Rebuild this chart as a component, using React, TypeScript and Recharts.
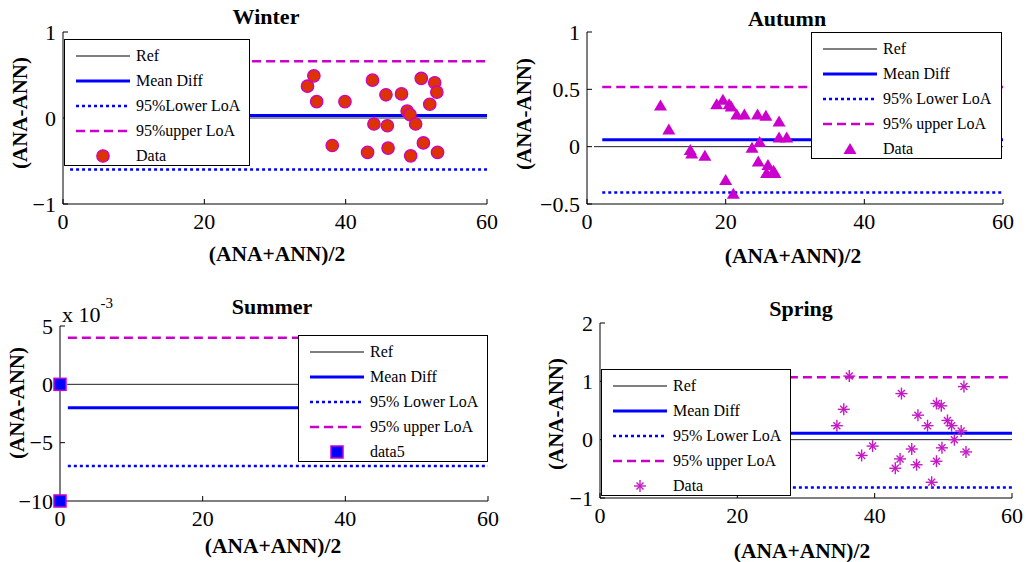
import { ScatterChart, Scatter, XAxis, YAxis, ReferenceLine } from "recharts"

const xTicks = [0, 20, 40, 60]

// Winter
const winterAvg = [34.6, 35.5, 35.9, 38.1, 39.9, 43.1, 43.8, 44.0, 45.7, 45.9, 46.0, 47.9, 48.7, 49.1, 49.2, 49.9, 50.7, 51.0, 51.9, 52.6, 52.9, 53.0]
const winterDiff = [0.37, 0.49, 0.19, -0.32, 0.19, -0.4, 0.44, -0.07, 0.27, -0.09, -0.35, 0.28, 0.08, 0.04, -0.44, -0.07, 0.46, -0.29, 0.16, 0.41, 0.3, -0.4]
const winterStats = { start: 1, ref: 0, mean: 0.03, lower: -0.6, upper: 0.66 }
const winterTicks = [-1, 0, 1]

// Autumn
const autumnAvg = [10.6, 11.8, 14.9, 15.1, 17.0, 18.7, 19.6, 20.0, 20.5, 20.8, 21.1, 21.6, 22.7, 23.8, 24.6, 24.9, 24.7, 25.8, 26.1, 25.9, 26.9, 27.1, 27.7, 27.7, 28.8]
const autumnDiff = [0.36, 0.15, -0.03, -0.06, -0.08, 0.37, 0.41, -0.29, 0.37, 0.35, -0.41, 0.28, 0.28, -0.01, 0.28, 0.04, -0.13, 0.27, -0.16, -0.23, -0.21, -0.23, 0.22, 0.08, 0.08]
const autumnStats = { start: 2.2, ref: 0, mean: 0.06, lower: -0.4, upper: 0.52 }
const autumnTicks = [-0.5, 0, 0.5, 1]

// Summer
const summerAvg = [0, 0]
const summerDiff = [0, -0.01]
const summerStats = { start: 1.1, ref: 0, mean: -0.002, lower: -0.007, upper: 0.004 }
const summerTicks = [-0.01, -0.005, 0, 0.005]

// Spring
const springAvg = [34.5, 35.5, 36.3, 38.1, 39.7, 43.0, 43.7, 43.9, 45.4, 46.1, 46.3, 47.7, 48.3, 49.0, 49.0, 49.7, 49.8, 50.6, 51.2, 51.6, 52.6, 53.0, 53.3]
const springDiff = [0.24, 0.52, 1.09, -0.27, -0.11, -0.49, -0.33, 0.79, -0.16, -0.43, 0.42, 0.24, -0.73, -0.37, 0.62, 0.58, -0.14, 0.33, 0.24, 0.0, 0.15, 0.91, -0.21]
const springStats = { start: 1, ref: 0, mean: 0.11, lower: -0.82, upper: 1.07 }
const springTicks = [-1, 0, 1, 2]

const winterLegend = ["Ref", "Mean Diff", "95%Lower LoA", "95%upper LoA", "Data"]
const seasonLegend = ["Ref", "Mean Diff", "95% Lower LoA", "95% upper LoA", "Data"]
const summerLegend = ["Ref", "Mean Diff", "95% Lower LoA", "95% upper LoA", "data5"]

const FONT = "Liberation Serif, DejaVu Serif, Noto Serif, serif"
const MAGENTA = "#cc00cc"
const BLUE = "#0000ff"

const fmt = (v: number) => (v < 0 ? "\u2212" + Math.abs(v) : String(v))
const fmtMilli = (v: number) => fmt(Math.round(v * 1000))

const circleMark = (p: any) => (
  <circle cx={p.cx} cy={p.cy} r={6.2} fill="#dd3300" stroke={MAGENTA} strokeWidth={1.3} />
)
const triangleMark = (p: any) => (
  <polygon points={`${p.cx},${p.cy - 6} ${p.cx - 6.5},${p.cy + 5} ${p.cx + 6.5},${p.cy + 5}`} fill={MAGENTA} />
)
const squareMark = (p: any) => (
  <rect x={p.cx - 6} y={p.cy - 6} width={12} height={12} fill={BLUE} stroke={MAGENTA} strokeWidth={1.5} />
)
const starMark = (p: any) => (
  <g stroke="#c41ac4" strokeWidth={1.4}>
    <line x1={p.cx - 6} y1={p.cy} x2={p.cx + 6} y2={p.cy} />
    <line x1={p.cx} y1={p.cy - 6} x2={p.cx} y2={p.cy + 6} />
    <line x1={p.cx - 3.5} y1={p.cy - 3.5} x2={p.cx + 3.5} y2={p.cy + 3.5} />
    <line x1={p.cx - 3.5} y1={p.cy + 3.5} x2={p.cx + 3.5} y2={p.cy - 3.5} />
  </g>
)

function Txt({ x, y, size, bold, rotate, children }: any) {
  return (
    <div
      style={{
        position: "absolute",
        left: x,
        top: y,
        transform: `translate(-50%, -50%)${rotate ? " rotate(-90deg)" : ""}`,
        fontFamily: FONT,
        fontSize: size,
        fontWeight: bold ? "bold" : "normal",
        whiteSpace: "nowrap",
        lineHeight: 1,
      }}
    >
      {children}
    </div>
  )
}

function LegendBox({ left, top, width, labels, marker }: any) {
  const samples = [
    <line x1={0} y1={5} x2={54} y2={5} stroke="#000" strokeWidth={1} />,
    <line x1={0} y1={5} x2={54} y2={5} stroke={BLUE} strokeWidth={3} />,
    <line x1={0} y1={5} x2={54} y2={5} stroke={BLUE} strokeWidth={2.5} strokeDasharray="3 3" />,
    <line x1={0} y1={5} x2={54} y2={5} stroke={MAGENTA} strokeWidth={2.5} strokeDasharray="9 5" />,
    marker({ cx: 27, cy: 5 }),
  ]
  return (
    <div
      style={{
        position: "absolute",
        left,
        top,
        width,
        height: 127,
        background: "#fff",
        border: "1px solid #000",
        boxSizing: "border-box",
      }}
    >
      {labels.map((label: string, i: number) => (
        <div key={label} style={{ position: "absolute", left: 10, top: 16 + 25 * i - 8, height: 16, display: "flex", alignItems: "center" }}>
          <svg width={56} height={14} style={{ overflow: "visible" }}>
            <g transform="translate(1,2)">{samples[i]}</g>
          </svg>
          <span style={{ marginLeft: 5, fontFamily: FONT, fontSize: 16, whiteSpace: "nowrap" }}>{label}</span>
        </div>
      ))}
    </div>
  )
}

function Panel({ left, top, width, marginTop, marginRight, yWidth, xHeight, avg, diff, stats, yTicks, tickFmt, marker }: any) {
  const data = avg.map((x: number, i: number) => ({ x, y: diff[i] }))
  const yDomain = [yTicks[0], yTicks[yTicks.length - 1]]
  const axisProps = {
    stroke: "#000",
    tickSize: -5,
    tick: { fontFamily: FONT, fontSize: 22, fill: "#000" },
  }
  return (
    <div style={{ position: "absolute", left, top }}>
      <ScatterChart width={width} height={262} margin={{ top: marginTop, right: marginRight, bottom: 0, left: 0 }}>
        <XAxis xAxisId="b" type="number" dataKey="x" domain={[0, 60]} ticks={xTicks} height={xHeight} tickMargin={14} {...axisProps} />
        <XAxis xAxisId="t" type="number" dataKey="x" orientation="top" domain={[0, 60]} ticks={xTicks} height={0} tick={false} stroke="#000" tickSize={-5} />
        <YAxis yAxisId="l" type="number" dataKey="y" domain={yDomain} ticks={yTicks} width={yWidth} tickMargin={12} tickFormatter={tickFmt} interval={0} {...axisProps} />
        <YAxis yAxisId="r" type="number" dataKey="y" orientation="right" domain={yDomain} ticks={yTicks} width={0} tick={false} stroke="#000" tickSize={-5} />
        <ReferenceLine xAxisId="b" yAxisId="l" segment={[{ x: 1, y: stats.ref }, { x: 60, y: stats.ref }]} stroke="#222" strokeWidth={1} />
        <ReferenceLine xAxisId="b" yAxisId="l" segment={[{ x: stats.start, y: stats.mean }, { x: 60, y: stats.mean }]} stroke={BLUE} strokeWidth={3} />
        <ReferenceLine xAxisId="b" yAxisId="l" segment={[{ x: stats.start, y: stats.lower }, { x: 60, y: stats.lower }]} stroke={BLUE} strokeWidth={2.5} strokeDasharray="3 3" />
        <ReferenceLine xAxisId="b" yAxisId="l" segment={[{ x: stats.start, y: stats.upper }, { x: 60, y: stats.upper }]} stroke={MAGENTA} strokeWidth={2.5} strokeDasharray="9 5" />
        <Scatter xAxisId="b" yAxisId="l" data={data} shape={marker} isAnimationActive={false} />
      </ScatterChart>
    </div>
  )
}

export default function App() {
  return (
    <div style={{ position: "absolute", left: 0, top: 0, width: 1029, height: 562, background: "#fff", overflow: "hidden" }}>
      <Panel left={0} top={0} width={500} marginTop={32} marginRight={13} yWidth={63} xHeight={58}
        avg={winterAvg} diff={winterDiff} stats={winterStats} yTicks={winterTicks} tickFmt={fmt} marker={circleMark} />
      <Panel left={515} top={0} width={500} marginTop={32} marginRight={12} yWidth={72} xHeight={58}
        avg={autumnAvg} diff={autumnDiff} stats={autumnStats} yTicks={autumnTicks} tickFmt={fmt} marker={triangleMark} />
      <Panel left={0} top={290} width={500} marginTop={36} marginRight={12} yWidth={60} xHeight={51}
        avg={summerAvg} diff={summerDiff} stats={summerStats} yTicks={summerTicks} tickFmt={fmtMilli} marker={squareMark} />
      <Panel left={515} top={290} width={510} marginTop={33} marginRight={13} yWidth={85} xHeight={54}
        avg={springAvg} diff={springDiff} stats={springStats} yTicks={springTicks} tickFmt={fmt} marker={starMark} />

      <LegendBox left={64} top={39} width={186} labels={winterLegend} marker={circleMark} />
      <LegendBox left={811} top={32} width={191} labels={seasonLegend} marker={triangleMark} />
      <LegendBox left={298} top={335} width={190} labels={summerLegend} marker={squareMark} />
      <LegendBox left={601} top={369} width={190} labels={seasonLegend} marker={starMark} />

      <Txt x={266} y={17} size={22} bold>Winter</Txt>
      <Txt x={787} y={19} size={22} bold>Autumn</Txt>
      <Txt x={272} y={307} size={22} bold>Summer</Txt>
      <Txt x={801} y={309} size={22} bold>Spring</Txt>

      <Txt x={277} y={255} size={21.5} bold>(ANA+ANN)/2</Txt>
      <Txt x={793} y={257} size={21.5} bold>(ANA+ANN)/2</Txt>
      <Txt x={273} y={547} size={21.5} bold>(ANA+ANN)/2</Txt>
      <Txt x={802} y={552} size={21.5} bold>(ANA+ANN)/2</Txt>

      <Txt x={20} y={113} size={21} bold rotate>(ANA-ANN)</Txt>
      <Txt x={524} y={114} size={21} bold rotate>(ANA-ANN)</Txt>
      <Txt x={17} y={403} size={21} bold rotate>(ANA-ANN)</Txt>
      <Txt x={556} y={414} size={21} bold rotate>(ANA-ANN)</Txt>

      <div style={{ position: "absolute", left: 62, top: 302, fontFamily: FONT, fontSize: 22, lineHeight: 1, whiteSpace: "nowrap" }}>
        x 10<sup style={{ fontSize: 15, position: "relative", top: -6 }}>-3</sup>
      </div>
    </div>
  )
}
